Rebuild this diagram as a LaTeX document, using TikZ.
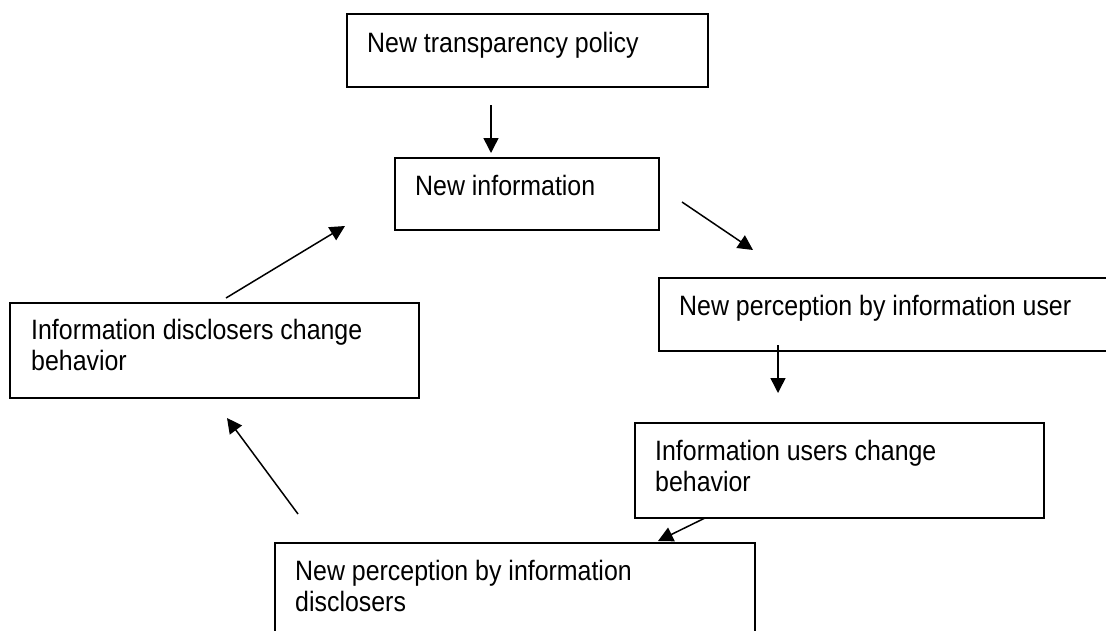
\documentclass[tikz,border=0pt]{standalone}
\usepackage{fontspec}
\newfontfamily\boxfont[FakeStretch=0.89]{Liberation Sans}
\usetikzlibrary{arrows.meta}
\begin{document}
\begin{tikzpicture}[x=1pt,y=-1pt,
  box/.style={draw=black, line width=1.6pt, anchor=north west, inner sep=0pt},
  txt/.style={anchor=base west, inner sep=0pt, font=\boxfont\fontsize{28}{31.5}\selectfont},
  arr/.style={line width=1.5pt, -{Triangle[length=15pt,width=15pt]}}]
\useasboundingbox (0,0) rectangle (1106,630);
\clip (0,0) rectangle (1106,630);
% boxes
\node[box, minimum width=361pt, minimum height=73pt] (b1) at (346,13) {};
\node[box, minimum width=264pt, minimum height=72pt] (b2) at (394,157) {};
\node[box, minimum width=480pt, minimum height=73pt] (b3) at (658,277) {};
\node[box, minimum width=409pt, minimum height=95pt] (b4) at (9,302) {};
\node[box, minimum width=409pt, minimum height=95pt] (b5) at (634,422) {};
\node[box, minimum width=480pt, minimum height=120pt] (b6) at (274,542) {};
% texts
\node[txt] (t1) at (367,52) {New transparency policy};
\node[txt] (t2) at (415,195) {New information};
\node[txt] (t3) at (679,315) {New perception by information user};
\node[txt] (t4) at (31,339) {\parbox[t]{380pt}{Information disclosers change\\behavior}};
\node[txt] (t5) at (655,460) {\parbox[t]{380pt}{Information users change\\behavior}};
\node[txt] (t6) at (295,580) {\parbox[t]{440pt}{New perception by information\\disclosers}};
% arrow ends
\coordinate (a1s) at (491,105);  \coordinate (a1e) at (491,153);
\coordinate (a2s) at (682,202);  \coordinate (a2e) at (753,250);
\coordinate (a3s) at (778,345);  \coordinate (a3e) at (778,393);
\coordinate (a4s) at (705,518);  \coordinate (a4e) at (658,541);
\coordinate (a5s) at (298,514);  \coordinate (a5e) at (227,418);
\coordinate (a6s) at (226,298);  \coordinate (a6e) at (345,226);
\draw[arr] (a1s) -- (a1e);
\draw[arr] (a2s) -- (a2e);
\draw[arr] (a3s) -- (a3e);
\draw[arr] (a4s) -- (a4e);
\draw[arr] (a5s) -- (a5e);
\draw[arr] (a6s) -- (a6e);
\end{tikzpicture}
\end{document}
